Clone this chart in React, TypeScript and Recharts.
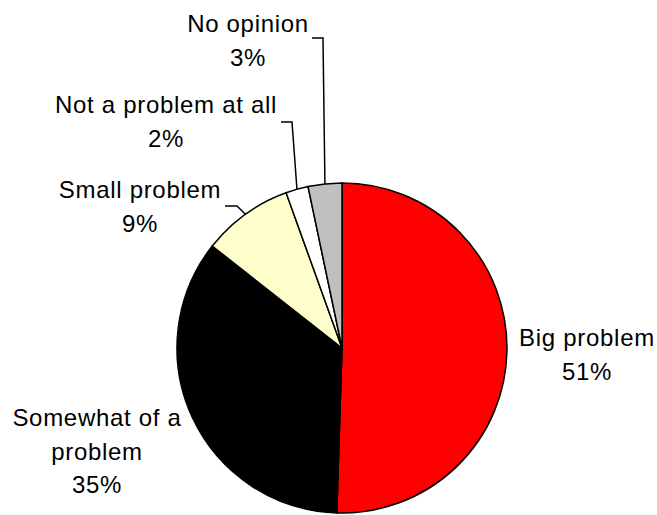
import { PieChart, Pie, Cell } from "recharts";

// slices, clockwise from 12 o'clock
const categories = ["Big problem", "Somewhat of a problem", "Small problem", "Not a problem at all", "No opinion"];
const values = [50.5, 35.1, 8.9, 2.2, 3.3];
const labelLines = [
  ["Big problem"],
  ["Somewhat of a", "problem"],
  ["Small problem"],
  ["Not a problem at all"],
  ["No opinion"],
];
const colors = ["#FF0000", "#000000", "#FFFFCC", "#FFFFFF", "#C0C0C0"];

// label layout, relative to pie centre: text centre x, first baseline y
const labelPos = [
  { dx: 245, dy: -2 },
  { dx: -245, dy: 78 },
  { dx: -202, dy: -150 },
  { dx: -176, dy: -235 },
  { dx: -94, dy: -316 },
];
// leader lines: horizontal stub [x1, x2] at y, then to slice edge
const leaders: ({ x1: number; x2: number; y: number } | null)[] = [
  null,
  null,
  { x1: -117, x2: -105, y: -142 },
  { x1: -61, x2: -50, y: -226 },
  { x1: -30, x2: -19, y: -310 },
];

const data = categories.map((name, i) => ({ name, value: values[i] }));

const LINE_H = 33.5;
const RAD = Math.PI / 180;

function renderLabel(props: any) {
  const { cx, cy, midAngle, outerRadius, index, value } = props;
  const pos = labelPos[index];
  const lines = [...labelLines[index], `${Math.round(value)}%`];
  const ld = leaders[index];
  const ex = cx + outerRadius * Math.cos(-midAngle * RAD);
  const ey = cy + outerRadius * Math.sin(-midAngle * RAD);
  return (
    <g key={`lbl-${index}`}>
      {ld && (
        <polyline
          points={`${cx + ld.x1},${cy + ld.y} ${cx + ld.x2},${cy + ld.y} ${ex},${ey}`}
          fill="none"
          stroke="#000"
          strokeWidth={1.5}
        />
      )}
      {lines.map((t, j) => (
        <text
          key={j}
          x={cx + pos.dx}
          y={cy + pos.dy + j * LINE_H}
          textAnchor="middle"
          fill="#000"
          fontSize={24}
          letterSpacing={0.7}
          fontFamily="'Liberation Sans', Arial, sans-serif"
        >
          {t}
        </text>
      ))}
    </g>
  );
}

export default function App() {
  return (
    <div style={{ position: "absolute", left: 0, top: 0, width: 657, height: 515, background: "#fff" }}>
      <PieChart width={657} height={515} margin={{ top: 0, right: 0, bottom: 0, left: 0 }}>
        <Pie
          data={data}
          dataKey="value"
          nameKey="name"
          cx={342}
          cy={348}
          outerRadius={165}
          startAngle={90}
          endAngle={-270}
          stroke="#000"
          strokeWidth={1.5}
          label={renderLabel}
          labelLine={false}
          isAnimationActive={false}
        >
          {data.map((d, i) => (
            <Cell key={d.name} fill={colors[i]} />
          ))}
        </Pie>
      </PieChart>
    </div>
  );
}
